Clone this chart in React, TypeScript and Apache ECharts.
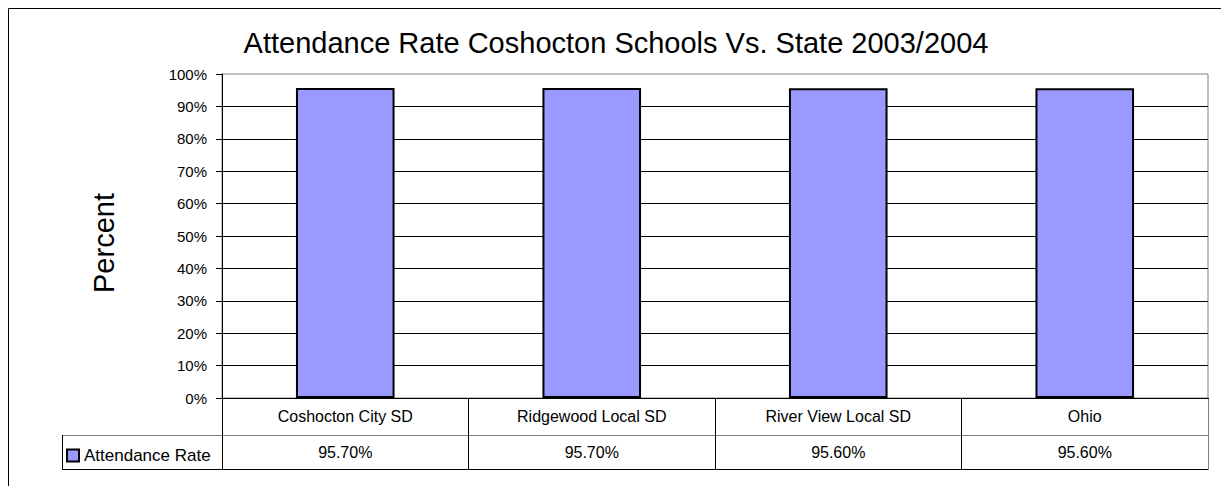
import React, { useEffect, useRef } from "react";
import * as echarts from "echarts";

const chartTitle = "Attendance Rate Coshocton Schools Vs. State 2003/2004";
const seriesName = "Attendance Rate";
const categories = ["Coshocton City SD", "Ridgewood Local SD", "River View Local SD", "Ohio"];
const attendance = [95.7, 95.7, 95.6, 95.6];
const yMin = 0;
const yMax = 100;
const yStep = 10;
const yAxisTitle = "Percent";

const FONT = "'Liberation Sans', Arial, sans-serif";

export default function App() {
  const ref = useRef<HTMLDivElement>(null);

  useEffect(() => {
    if (!ref.current) return;
    const chart = echarts.init(ref.current, null, { renderer: "svg" });

    const gLeft = 222;
    const gTop = 74;
    const gWidth = 986;
    const gHeight = 324;
    const gBottom = gTop + gHeight; // 398
    const row1 = 37;
    const row2 = 34;
    const legendLeft = 62;

    const valueLabels = attendance.map((v) => v.toFixed(2) + "%");

    chart.setOption({
      animation: false,
      backgroundColor: "#ffffff",
      title: {
        text: chartTitle,
        left: 616,
        top: 28,
        textAlign: "center",
        padding: 0,
        textStyle: { fontFamily: FONT, fontSize: 29, fontWeight: "normal", color: "#000" },
      },
      legend: {
        data: [seriesName],
        left: 66,
        top: 447,
        padding: 0,
        itemWidth: 12,
        itemHeight: 12,
        icon: "rect",
        textStyle: { fontFamily: FONT, fontSize: 17, color: "#000" },
      },
      grid: {
        left: gLeft,
        top: gTop,
        width: gWidth,
        height: gHeight,
        show: true,
        borderColor: "#808080",
        borderWidth: 1,
        backgroundColor: "transparent",
      },
      xAxis: [
        {
          type: "category",
          data: categories,
          position: "bottom",
          boundaryGap: true,
          axisLine: { show: true, lineStyle: { color: "#000", width: 1 } },
          axisTick: { show: true, alignWithLabel: false, interval: 0, length: row1 + row2, lineStyle: { color: "#000" } },
          axisLabel: {
            interval: 0,
            margin: 18,
            verticalAlign: "middle",
            fontFamily: FONT,
            fontSize: 16,
            color: "#000",
          },
          splitLine: { show: false },
        },
        {
          type: "category",
          data: valueLabels,
          position: "bottom",
          offset: row1,
          boundaryGap: true,
          axisLine: { show: true, lineStyle: { color: "#808080", width: 1 } },
          axisTick: { show: false },
          axisLabel: {
            interval: 0,
            margin: 17,
            verticalAlign: "middle",
            fontFamily: FONT,
            fontSize: 16,
            color: "#000",
          },
          splitLine: { show: false },
        },
        {
          type: "category",
          data: categories,
          position: "bottom",
          offset: row1 + row2,
          axisLine: { show: true, lineStyle: { color: "#000", width: 1 } },
          axisTick: { show: false },
          axisLabel: { show: false },
          splitLine: { show: false },
        },
      ],
      yAxis: {
        type: "value",
        min: yMin,
        max: yMax,
        interval: yStep,
        axisLine: { show: true, lineStyle: { color: "#000", width: 1 } },
        axisTick: { show: true, length: 6, lineStyle: { color: "#000" } },
        axisLabel: {
          margin: 15,
          formatter: "{value}%",
          fontFamily: FONT,
          fontSize: 15,
          color: "#000",
        },
        splitLine: { show: true, showMinLine: false, showMaxLine: false, lineStyle: { color: "#000", width: 1 } },
      },
      series: [
        {
          name: seriesName,
          type: "bar",
          xAxisIndex: 0,
          data: attendance,
          barWidth: "40%",
          itemStyle: { color: "#9999FF", borderColor: "#000", borderWidth: 2 },
        },
      ],
      graphic: [
        {
          type: "rect",
          silent: true,
          shape: { x: 8.5, y: 8.5, width: 1400, height: 700 },
          style: { fill: "none", stroke: "#000", lineWidth: 1 },
        },
        {
          type: "text",
          silent: true,
          x: 104,
          y: 243,
          rotation: Math.PI / 2,
          style: {
            text: yAxisTitle,
            fontFamily: FONT,
            fontSize: 29,
            fill: "#000",
            align: "center",
            verticalAlign: "middle",
          },
        },
        {
          type: "line",
          silent: true,
          shape: { x1: legendLeft, y1: gBottom + row1 + 0.5, x2: gLeft, y2: gBottom + row1 + 0.5 },
          style: { stroke: "#808080", lineWidth: 1 },
        },
        {
          type: "line",
          silent: true,
          shape: { x1: legendLeft, y1: gBottom + row1 + row2 + 0.5, x2: gLeft, y2: gBottom + row1 + row2 + 0.5 },
          style: { stroke: "#000", lineWidth: 1 },
        },
        {
          type: "line",
          silent: true,
          shape: { x1: legendLeft + 0.5, y1: gBottom + row1, x2: legendLeft + 0.5, y2: gBottom + row1 + row2 + 1 },
          style: { stroke: "#000", lineWidth: 1 },
        },
        {
          type: "line",
          silent: true,
          z: 100,
          shape: { x1: gLeft + gWidth + 0.5, y1: gBottom + 1, x2: gLeft + gWidth + 0.5, y2: gBottom + row1 + row2 + 1 },
          style: { stroke: "#808080", lineWidth: 1 },
        },
      ],
    });

    return () => chart.dispose();
  }, []);

  return (
    <div
      ref={ref}
      style={{ position: "fixed", left: 0, top: 0, width: 1221, height: 486, background: "#fff" }}
    />
  );
}
